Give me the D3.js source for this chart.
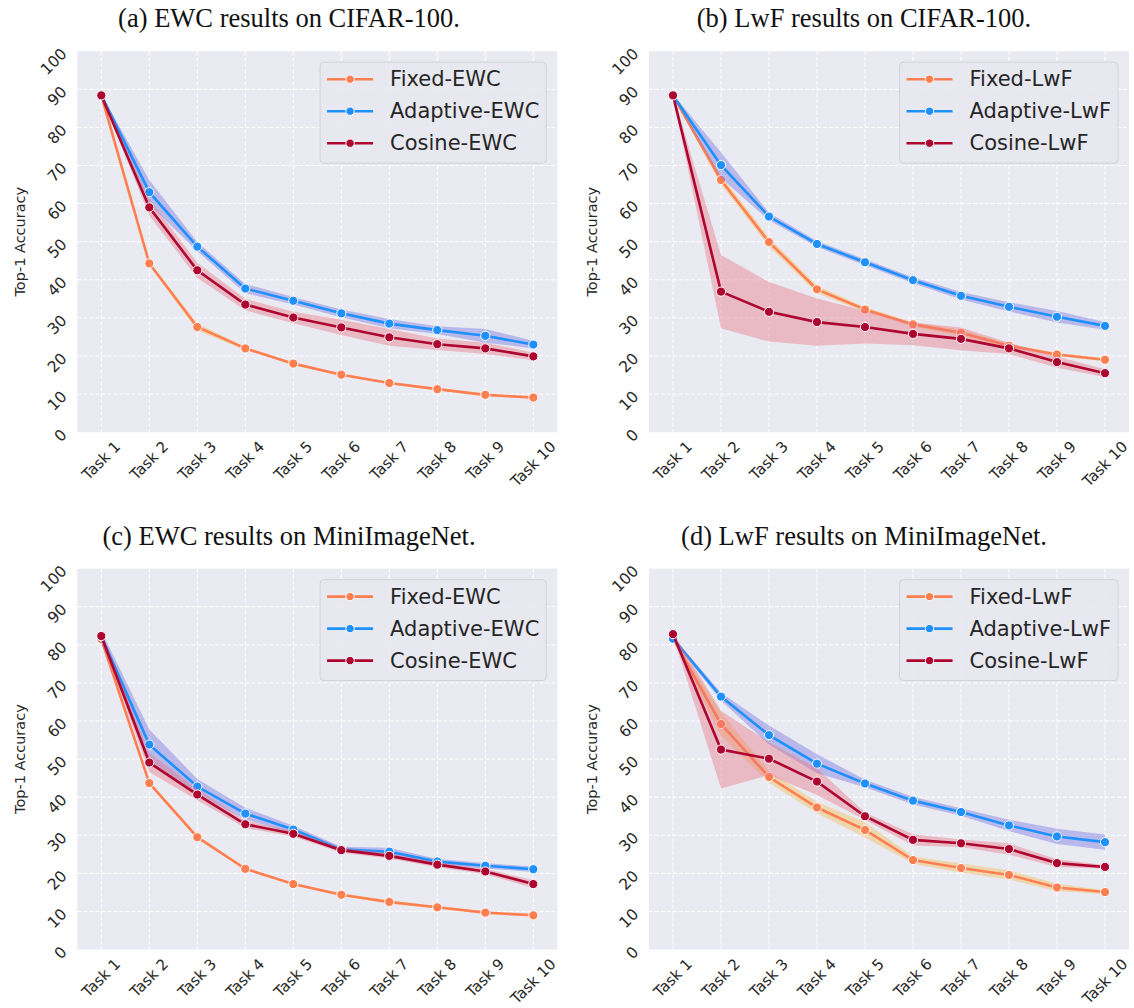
<!DOCTYPE html>
<html>
<head>
<meta charset="utf-8">
<script src="https://cdn.jsdelivr.net/npm/d3@7"></script>
<style>
  body { margin: 0; background: #fff; }
  svg { display: block; }
</style>
</head>
<body>
<div class="container"></div>
<script>
const tasks = ['Task 1', 'Task 2', 'Task 3', 'Task 4', 'Task 5', 'Task 6', 'Task 7', 'Task 8', 'Task 9', 'Task 10'];
const yTicks = [0, 10, 20, 30, 40, 50, 60, 70, 80, 90, 100];
const titles = ['(a) EWC results on CIFAR-100.', '(b) LwF results on CIFAR-100.',
  '(c) EWC results on MiniImageNet.', '(d) LwF results on MiniImageNet.'];
const ewcLabels = ['Fixed-EWC', 'Adaptive-EWC', 'Cosine-EWC'];
const lwfLabels = ['Fixed-LwF', 'Adaptive-LwF', 'Cosine-LwF'];

// (a) EWC on CIFAR-100
const ewcCifarFixed = [88.4, 44.3, 27.6, 22.0, 18.0, 15.1, 12.9, 11.3, 9.8, 9.1];
const ewcCifarFixedSd = [0.3, 0.5, 1.0, 0.4, 0.3, 0.3, 0.3, 0.3, 0.3, 0.3];
const ewcCifarAdaptive = [88.4, 63.0, 48.7, 37.7, 34.5, 31.2, 28.5, 26.8, 25.3, 23.0];
const ewcCifarAdaptiveSd = [0.3, 3.2, 1.2, 1.2, 1.0, 1.0, 1.2, 1.0, 1.8, 1.0];
const ewcCifarCosine = [88.4, 59.0, 42.5, 33.5, 30.1, 27.5, 24.9, 23.1, 22.0, 19.9];
const ewcCifarCosineSd = [0.3, 2.2, 2.0, 1.5, 1.5, 2.0, 2.2, 1.5, 1.5, 1.0];

// (b) LwF on CIFAR-100
const lwfCifarFixed = [88.4, 66.2, 49.9, 37.5, 32.2, 28.3, 26.1, 22.7, 20.4, 19.0];
const lwfCifarFixedSd = [0.3, 1.2, 1.2, 1.0, 0.6, 0.6, 0.8, 0.5, 0.4, 0.4];
const lwfCifarAdaptive = [88.4, 70.1, 56.6, 49.4, 44.6, 39.9, 35.8, 32.9, 30.3, 27.9];
const lwfCifarAdaptiveSd = [0.3, 3.3, 1.0, 0.8, 0.8, 0.8, 1.0, 1.2, 1.5, 1.0];
const lwfCifarCosine = [88.4, 36.9, 31.6, 28.9, 27.6, 25.8, 24.5, 22.0, 18.4, 15.5];
const lwfCifarCosineSd = [0.3, 9.6, 7.8, 6.2, 4.3, 3.0, 3.0, 1.5, 1.5, 1.0];

// (c) EWC on MiniImageNet
const ewcMiniFixed = [81.5, 43.7, 29.5, 21.2, 17.2, 14.4, 12.5, 11.1, 9.7, 9.0];
const ewcMiniFixedSd = [0.8, 0.5, 0.4, 0.3, 0.3, 0.3, 0.5, 0.3, 0.3, 0.3];
const ewcMiniAdaptive = [82.2, 53.8, 42.8, 35.7, 31.5, 26.3, 25.7, 23.1, 22.0, 21.1];
const ewcMiniAdaptiveSd = [1.5, 4.0, 2.0, 1.5, 1.0, 0.7, 1.0, 0.7, 0.7, 0.7];
const ewcMiniCosine = [82.3, 49.1, 40.7, 32.9, 30.4, 26.1, 24.6, 22.3, 20.5, 17.2];
const ewcMiniCosineSd = [0.8, 2.5, 1.5, 1.0, 0.7, 0.7, 0.7, 0.7, 0.7, 1.0];

// (d) LwF on MiniImageNet
const lwfMiniFixed = [81.7, 59.2, 45.3, 37.3, 31.4, 23.5, 21.4, 19.6, 16.3, 15.1];
const lwfMiniFixedSd = [0.5, 3.0, 1.5, 1.5, 2.0, 1.0, 1.2, 1.2, 1.0, 0.5];
const lwfMiniAdaptive = [81.6, 66.4, 56.3, 48.8, 43.6, 39.1, 36.1, 32.6, 29.7, 28.2];
const lwfMiniAdaptiveSd = [0.5, 1.0, 2.5, 2.5, 1.0, 1.0, 1.0, 1.5, 2.0, 2.0];
const lwfMiniCosine = [82.8, 52.5, 50.1, 44.1, 35.0, 28.8, 27.9, 26.4, 22.7, 21.7];
const lwfMiniCosineSd = [0.5, 10.2, 4.3, 3.5, 1.0, 1.5, 1.0, 1.5, 1.0, 0.5];

const lineColors = ['#ff7f50', '#1e90ff', '#ad0530'];
const bandColors = ['#f5b84a', '#6f6fe0', '#e8707f'];

const panels = [
  { title: titles[0], labels: ewcLabels, means: [ewcCifarFixed, ewcCifarAdaptive, ewcCifarCosine],
    sds: [ewcCifarFixedSd, ewcCifarAdaptiveSd, ewcCifarCosineSd], left: 77.3, top: 51.2, tx: 289, ty: 27 },
  { title: titles[1], labels: lwfLabels, means: [lwfCifarFixed, lwfCifarAdaptive, lwfCifarCosine],
    sds: [lwfCifarFixedSd, lwfCifarAdaptiveSd, lwfCifarCosineSd], left: 649, top: 51.2, tx: 864, ty: 27 },
  { title: titles[2], labels: ewcLabels, means: [ewcMiniFixed, ewcMiniAdaptive, ewcMiniCosine],
    sds: [ewcMiniFixedSd, ewcMiniAdaptiveSd, ewcMiniCosineSd], left: 77.3, top: 568.6, tx: 289, ty: 545 },
  { title: titles[3], labels: lwfLabels, means: [lwfMiniFixed, lwfMiniAdaptive, lwfMiniCosine],
    sds: [lwfMiniFixedSd, lwfMiniAdaptiveSd, lwfMiniCosineSd], left: 649, top: 568.6, tx: 864, ty: 545 }
];

const width = 1134, height = 1008;
const pw = 480, ph = 381;
const sans = 'DejaVu Sans, sans-serif';

const svg = d3.select('.container')
  .append('svg')
  .attr('width', width)
  .attr('height', height);

svg.append('rect').attr('width', width).attr('height', height).attr('fill', '#fff');

panels.forEach(p => {
  svg.append('text')
    .attr('x', p.tx).attr('y', p.ty)
    .attr('text-anchor', 'middle')
    .attr('font-family', 'Liberation Serif, Times New Roman, serif')
    .attr('font-size', 26.5)
    .attr('fill', '#111')
    .text(p.title);

  const g = svg.append('g').attr('transform', `translate(${p.left},${p.top})`);

  const x = d3.scalePoint().domain(tasks).range([0, pw]).padding(0.5);
  const y = d3.scaleLinear().domain([0, 100]).range([ph, 0]);

  g.append('rect').attr('width', pw).attr('height', ph).attr('fill', '#eaeaf2');

  // grid
  g.append('g').selectAll('line').data(yTicks.slice(1, -1)).join('line')
    .attr('x1', 0).attr('x2', pw)
    .attr('y1', d => y(d)).attr('y2', d => y(d))
    .attr('stroke', '#fff').attr('stroke-width', 1).attr('stroke-dasharray', '4,2');
  g.append('g').selectAll('line').data(tasks).join('line')
    .attr('x1', d => x(d)).attr('x2', d => x(d))
    .attr('y1', 0).attr('y2', ph)
    .attr('stroke', '#fff').attr('stroke-width', 1).attr('stroke-dasharray', '4,2');

  // y tick labels, rotated 45deg
  g.append('g').selectAll('text').data(yTicks).join('text')
    .attr('transform', d => `translate(-13,${y(d)}) rotate(-45)`)
    .attr('text-anchor', 'end')
    .attr('dominant-baseline', 'central')
    .attr('font-family', sans).attr('font-size', 15.5).attr('fill', '#262626')
    .text(d => d);

  // x tick labels, rotated 45deg, centred on tick
  const xl = g.append('g').selectAll('text').data(tasks).join('text')
    .attr('text-anchor', 'middle')
    .attr('dominant-baseline', 'central')
    .attr('font-family', sans).attr('font-size', 15).attr('fill', '#262626')
    .text(d => d);
  xl.each(function (d) {
    const L = this.getComputedTextLength();
    const half = (L + 11) / (2 * Math.SQRT2);
    d3.select(this).attr('transform', `translate(${x(d)},${ph + 8 + half}) rotate(-45)`);
  });

  g.append('text')
    .attr('transform', `translate(-57,${ph / 2}) rotate(-90)`)
    .attr('text-anchor', 'middle')
    .attr('dominant-baseline', 'central')
    .attr('font-family', sans).attr('font-size', 14.5).attr('fill', '#262626')
    .text('Top-1 Accuracy');

  const area = d3.area()
    .x((d, i) => x(tasks[i]))
    .y0(d => y(d[0] - d[1]))
    .y1(d => y(d[0] + d[1]));
  const line = d3.line()
    .x((d, i) => x(tasks[i]))
    .y(d => y(d));

  p.means.forEach((m, s) => {
    const rows = m.map((v, i) => [v, p.sds[s][i]]);
    g.append('path').datum(rows)
      .attr('d', area)
      .attr('fill', bandColors[s]).attr('fill-opacity', 0.4);
    g.append('path').datum(m)
      .attr('d', line)
      .attr('fill', 'none').attr('stroke', lineColors[s]).attr('stroke-width', 2.6);
    g.append('g').selectAll('circle').data(m).join('circle')
      .attr('cx', (d, i) => x(tasks[i])).attr('cy', d => y(d))
      .attr('r', 4.6)
      .attr('fill', lineColors[s]).attr('stroke', '#fff').attr('stroke-width', 1);
  });

  // legend
  const lg = g.append('g');
  const box = lg.append('rect').attr('rx', 4).attr('ry', 4)
    .attr('fill', '#e8e8f0').attr('fill-opacity', 0.9)
    .attr('stroke', '#d2d2da').attr('stroke-width', 1);
  let maxW = 0;
  p.labels.forEach((lab, s) => {
    const cy = 28 + s * 32;
    lg.append('line').attr('x1', 7).attr('x2', 53).attr('y1', cy).attr('y2', cy)
      .attr('stroke', lineColors[s]).attr('stroke-width', 2.6);
    lg.append('circle').attr('cx', 30).attr('cy', cy).attr('r', 4.2)
      .attr('fill', lineColors[s]).attr('stroke', '#fff').attr('stroke-width', 1);
    const t = lg.append('text').attr('x', 70).attr('y', cy)
      .attr('dominant-baseline', 'central')
      .attr('font-family', sans).attr('font-size', 21).attr('fill', '#262626')
      .text(lab);
    maxW = Math.max(maxW, t.node().getComputedTextLength());
  });
  const lw = 70 + maxW + 7;
  box.attr('x', 0).attr('y', 11).attr('width', lw).attr('height', 101);
  lg.attr('transform', `translate(${pw - 11 - lw},0)`);
});
</script>
</body>
</html>
